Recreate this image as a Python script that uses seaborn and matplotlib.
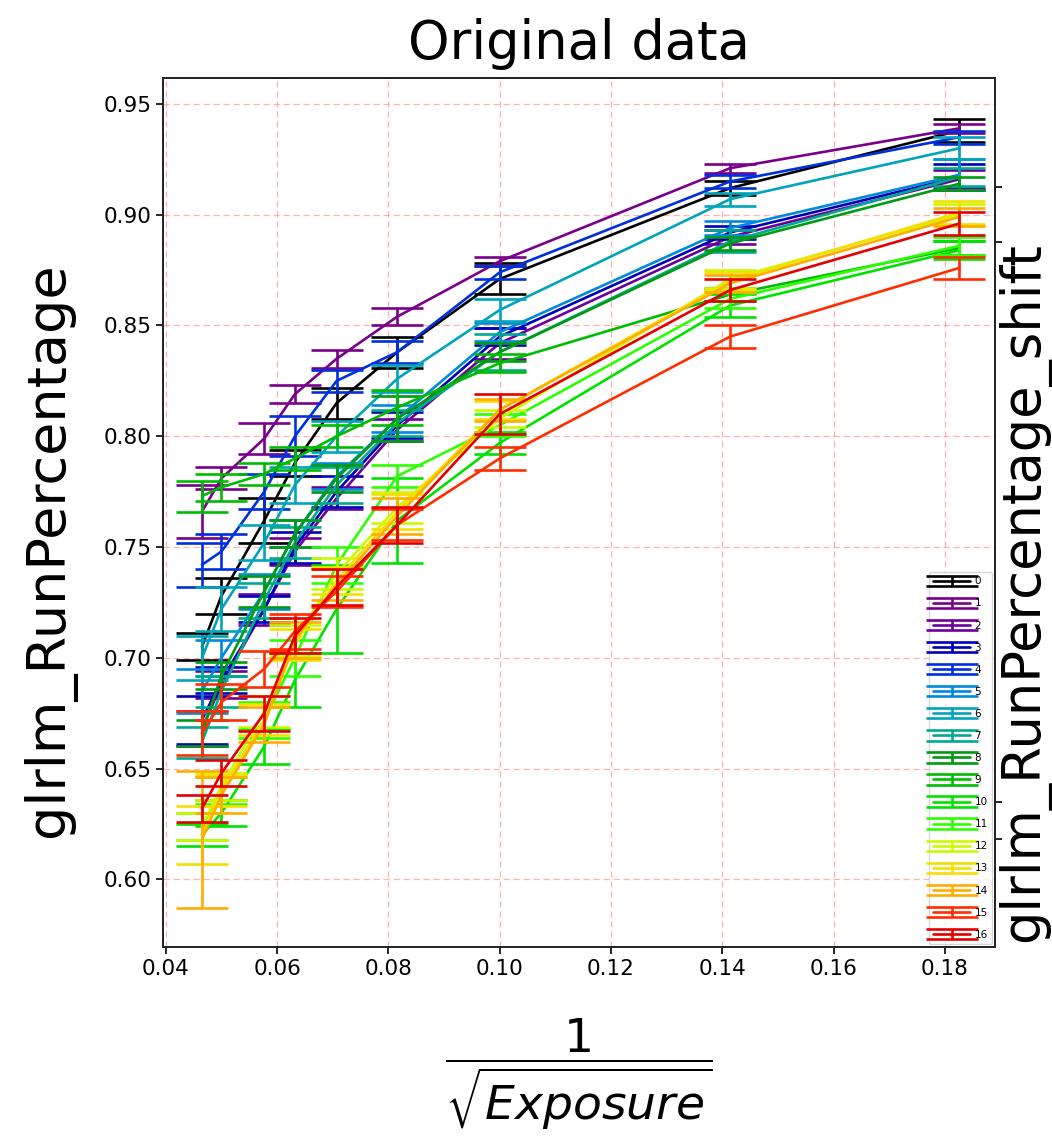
import numpy as np
import pandas as pd
import matplotlib
matplotlib.use("Agg")
import matplotlib.pyplot as plt
import seaborn as sns

# ---------------- data ----------------
x_inv_sqrt_exposure = [0.0465, 0.0500, 0.0577, 0.0632, 0.0707, 0.0816, 0.1000, 0.1414, 0.1826]
series_labels = [str(i) for i in range(17)]

mean_0 = [0.705, 0.728, 0.762, 0.788, 0.815, 0.838, 0.871, 0.912, 0.938]
err_0 = [0.006, 0.008, 0.010, 0.006, 0.007, 0.007, 0.007, 0.003, 0.005]
mean_1 = [0.766, 0.781, 0.799, 0.819, 0.835, 0.854, 0.879, 0.921, 0.939]
err_1 = [0.012, 0.005, 0.007, 0.004, 0.004, 0.004, 0.002, 0.002, 0.002]
mean_2 = [0.668, 0.688, 0.722, 0.748, 0.772, 0.803, 0.842, 0.890, 0.916]
err_2 = [0.008, 0.006, 0.007, 0.006, 0.005, 0.005, 0.007, 0.003, 0.004]
mean_3 = [0.672, 0.690, 0.722, 0.750, 0.775, 0.805, 0.845, 0.892, 0.917]
err_3 = [0.011, 0.006, 0.006, 0.007, 0.007, 0.006, 0.004, 0.003, 0.006]
mean_4 = [0.742, 0.748, 0.775, 0.800, 0.825, 0.838, 0.874, 0.915, 0.935]
err_4 = [0.010, 0.008, 0.008, 0.009, 0.005, 0.005, 0.003, 0.003, 0.003]
mean_5 = [0.685, 0.700, 0.730, 0.756, 0.782, 0.808, 0.847, 0.894, 0.918]
err_5 = [0.010, 0.008, 0.008, 0.006, 0.006, 0.006, 0.004, 0.003, 0.007]
mean_6 = [0.700, 0.722, 0.752, 0.778, 0.800, 0.826, 0.857, 0.907, 0.930]
err_6 = [0.010, 0.010, 0.008, 0.008, 0.007, 0.006, 0.005, 0.003, 0.005]
mean_7 = [0.662, 0.685, 0.726, 0.752, 0.778, 0.806, 0.838, 0.888, 0.917]
err_7 = [0.007, 0.007, 0.008, 0.007, 0.008, 0.006, 0.008, 0.005, 0.004]
mean_8 = [0.666, 0.692, 0.730, 0.756, 0.781, 0.808, 0.838, 0.887, 0.914]
err_8 = [0.006, 0.006, 0.007, 0.006, 0.006, 0.010, 0.004, 0.003, 0.003]
mean_9 = [0.773, 0.777, 0.783, 0.790, 0.800, 0.813, 0.833, 0.864, 0.885]
err_9 = [0.007, 0.006, 0.005, 0.005, 0.005, 0.008, 0.004, 0.003, 0.003]
mean_10 = [0.620, 0.630, 0.660, 0.690, 0.722, 0.762, 0.797, 0.859, 0.884]
err_10 = [0.005, 0.006, 0.008, 0.012, 0.020, 0.019, 0.005, 0.005, 0.004]
mean_11 = [0.624, 0.640, 0.672, 0.700, 0.742, 0.782, 0.805, 0.862, 0.886]
err_11 = [0.006, 0.006, 0.008, 0.008, 0.008, 0.005, 0.005, 0.004, 0.004]
mean_12 = [0.624, 0.642, 0.676, 0.708, 0.738, 0.768, 0.808, 0.871, 0.900]
err_12 = [0.006, 0.006, 0.007, 0.007, 0.007, 0.007, 0.004, 0.004, 0.005]
mean_13 = [0.620, 0.640, 0.672, 0.706, 0.735, 0.766, 0.812, 0.870, 0.901]
err_13 = [0.013, 0.007, 0.007, 0.007, 0.006, 0.008, 0.004, 0.004, 0.005]
mean_14 = [0.618, 0.638, 0.670, 0.708, 0.733, 0.764, 0.812, 0.869, 0.899]
err_14 = [0.031, 0.008, 0.008, 0.008, 0.007, 0.008, 0.005, 0.004, 0.004]
mean_15 = [0.666, 0.680, 0.695, 0.712, 0.730, 0.760, 0.790, 0.845, 0.876]
err_15 = [0.010, 0.008, 0.008, 0.008, 0.007, 0.007, 0.005, 0.005, 0.005]
mean_16 = [0.632, 0.648, 0.675, 0.710, 0.732, 0.760, 0.810, 0.866, 0.896]
err_16 = [0.006, 0.006, 0.008, 0.008, 0.008, 0.008, 0.009, 0.005, 0.005]

means = [mean_0, mean_1, mean_2, mean_3, mean_4, mean_5, mean_6, mean_7, mean_8,
         mean_9, mean_10, mean_11, mean_12, mean_13, mean_14, mean_15, mean_16]
errs = [err_0, err_1, err_2, err_3, err_4, err_5, err_6, err_7, err_8,
        err_9, err_10, err_11, err_12, err_13, err_14, err_15, err_16]

# twin-axis tick positions seen on the right spine (no labels)
right_ticks = [0.124, 0.167, 0.811, 0.875]

# ---------------- style ----------------
sns.set_theme(style="ticks")
plt.rcParams['font.family'] = ['DejaVu Sans']
plt.rcParams['mathtext.fontset'] = 'dejavusans'
plt.rcParams['text.color'] = 'black'
plt.rcParams['axes.labelcolor'] = 'black'
plt.rcParams['xtick.color'] = 'black'
plt.rcParams['ytick.color'] = 'black'

cmap = plt.get_cmap('nipy_spectral')
colors = [cmap(i / 18.0) for i in range(len(series_labels))]

fig = plt.figure(figsize=(10.52, 11.38), dpi=100)
ax = fig.add_axes([163 / 1052, 1 - 947 / 1138, (995 - 163) / 1052, (947 - 78) / 1138])

handles = []
for lab, m, e, c in zip(series_labels, means, errs, colors):
    df = pd.DataFrame({'x': x_inv_sqrt_exposure, 'y': m})
    sns.lineplot(data=df, x='x', y='y', color=c, linewidth=1.9, ax=ax,
                 legend=False, sort=False, errorbar=None)
    line = ax.lines[-1]
    eb = ax.errorbar(x_inv_sqrt_exposure, m, yerr=e, fmt='none', ecolor=c,
                     elinewidth=1.9, capsize=19, capthick=1.9)
    handles.append((line, eb))

ax.set_xlim(0.0395, 0.1890)
ax.set_ylim(0.5695, 0.9617)
ax.set_xticks([0.04, 0.06, 0.08, 0.10, 0.12, 0.14, 0.16, 0.18])
ax.set_yticks([0.60, 0.65, 0.70, 0.75, 0.80, 0.85, 0.90, 0.95])
ax.set_xticklabels([f"{v:.2f}" for v in ax.get_xticks()])
ax.set_yticklabels([f"{v:.2f}" for v in ax.get_yticks()])
ax.tick_params(axis='both', labelsize=15.5, length=5, width=1.2, colors='black')
ax.grid(True, color='#ff8080', alpha=0.6, linestyle=(0, (5, 3)), linewidth=0.9)
for sp in ax.spines.values():
    sp.set_visible(True)
    sp.set_color('black')
    sp.set_linewidth(1.2)

ax.set_title("Original data", fontsize=38, pad=14, color='black')
ax.set_ylabel("glrlm_RunPercentage", fontsize=39)
ax.yaxis.set_label_coords(-0.105, 0.457)
ax.set_xlabel(r"$\dfrac{1}{\sqrt{Exposure}}$", fontsize=34)
ax.xaxis.set_label_coords(0.5, -0.08)

leg = ax.legend(handles, series_labels, loc='lower right', fontsize=7.5,
                labelspacing=1.16, handlelength=3.6, handletextpad=0.4,
                borderpad=0.4, borderaxespad=0.3, frameon=True,
                edgecolor='0.8', framealpha=0.8, fancybox=True)

ax2 = ax.twinx()
ax2.set_ylim(0, 1)
ax2.set_yticks(right_ticks)
ax2.set_yticklabels([])
ax2.tick_params(axis='y', length=5, width=1.2, colors='black')
ax2.grid(False)
ax2.set_ylabel("glrlm_RunPercentage_shift", fontsize=38)
ax2.yaxis.set_label_coords(1.003, 0.4085)

fig.savefig("out.png", dpi=100, facecolor='white')
